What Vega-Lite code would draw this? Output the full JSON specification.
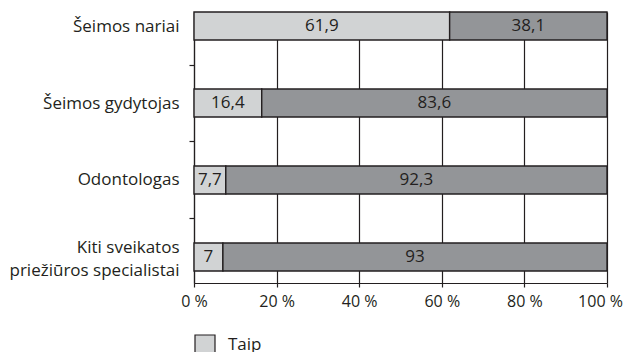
{
  "$schema": "https://vega.github.io/schema/vega-lite/v6.json",
  "width": 413,
  "height": 271,
  "autosize": {"type": "none"},
  "padding": {"left": 194, "top": 12, "right": 19, "bottom": 69},
  "background": "white",
  "config": {
    "view": {"stroke": null},
    "font": "Open Sans",
    "text": {"font": "Open Sans"}
  },
  "data": {
    "values": [
      {"category": "Šeimos nariai", "answer": "Taip", "value": 61.9},
      {"category": "Šeimos nariai", "answer": "Ne", "value": 38.1},
      {"category": "Šeimos gydytojas", "answer": "Taip", "value": 16.4},
      {"category": "Šeimos gydytojas", "answer": "Ne", "value": 83.6},
      {"category": "Odontologas", "answer": "Taip", "value": 7.7},
      {"category": "Odontologas", "answer": "Ne", "value": 92.3},
      {"category": "Kiti sveikatos priežiūros specialistai", "answer": "Taip", "value": 7},
      {"category": "Kiti sveikatos priežiūros specialistai", "answer": "Ne", "value": 93}
    ]
  },
  "transform": [
    {"stack": "value", "groupby": ["category"], "sort": [{"field": "answer", "order": "descending"}], "as": ["x0", "x1"]},
    {"calculate": "(datum.x0 + datum.x1) / 2", "as": "xm"},
    {"calculate": "replace(toString(datum.value), '.', ',')", "as": "label"}
  ],
  "encoding": {
    "y": {
      "field": "category",
      "type": "nominal",
      "sort": ["Šeimos nariai", "Šeimos gydytojas", "Odontologas", "Kiti sveikatos priežiūros specialistai"],
      "scale": {"paddingInner": 0.636, "paddingOuter": 0.078, "align": 0},
      "axis": {
        "title": null,
        "grid": false,
        "domain": true,
        "domainColor": "#231f20",
        "domainWidth": 1.2,
        "ticks": true,
        "tickColor": "#231f20",
        "tickWidth": 1.2,
        "tickSize": 5,
        "bandPosition": 0.5,
        "tickOffset": -38.5,
        "labelOffset": {
          "condition": {"test": "datum.value == 'Kiti sveikatos priežiūros specialistai'", "value": 29},
          "value": 38.5
        },
        "labelPadding": 10,
        "labelFontSize": 17,
        "labelColor": "#231f20",
        "labelLimit": 300,
        "labelLineHeight": 23,
        "labelExpr": "datum.label == 'Kiti sveikatos priežiūros specialistai' ? ['Kiti sveikatos', 'priežiūros specialistai'] : datum.label"
      }
    }
  },
  "layer": [
    {
      "mark": {"type": "bar", "stroke": "#231f20", "strokeWidth": 1.4},
      "encoding": {
        "x": {
          "field": "x0",
          "type": "quantitative",
          "scale": {"domain": [0, 100], "nice": false},
          "axis": {
            "title": null,
            "values": [0, 20, 40, 60, 80, 100],
            "labelExpr": "datum.value + ' %'",
            "grid": true,
            "gridColor": "#231f20",
            "gridWidth": 1.2,
            "gridOpacity": 1,
            "domainColor": "#231f20",
            "domainWidth": 1.2,
            "tickColor": "#231f20",
            "tickWidth": 1.2,
            "tickSize": 4,
            "labelPadding": 6,
            "labelFontSize": 16,
            "labelColor": "#231f20",
            "labelFlush": false,
            "labelOverlap": false,
            "labelOffset": {
              "condition": {"test": "datum.value == 100", "value": -7},
              "value": 0
            }
          }
        },
        "x2": {"field": "x1"},
        "color": {
          "field": "answer",
          "type": "nominal",
          "scale": {"domain": ["Taip", "Ne"], "range": ["#d1d3d4", "#939598"]},
          "legend": {
            "title": null,
            "orient": "none",
            "legendX": 0,
            "legendY": 322,
            "direction": "vertical",
            "symbolType": "square",
            "symbolSize": 400,
            "symbolStrokeColor": "#231f20",
            "symbolStrokeWidth": 1.2,
            "labelFontSize": 17,
            "labelColor": "#231f20",
            "labelOffset": 12,
            "rowPadding": 10
          }
        }
      }
    },
    {
      "mark": {"type": "text", "fontSize": 17, "color": "#231f20"},
      "encoding": {
        "x": {"field": "xm", "type": "quantitative"},
        "text": {"field": "label"}
      }
    }
  ]
}
